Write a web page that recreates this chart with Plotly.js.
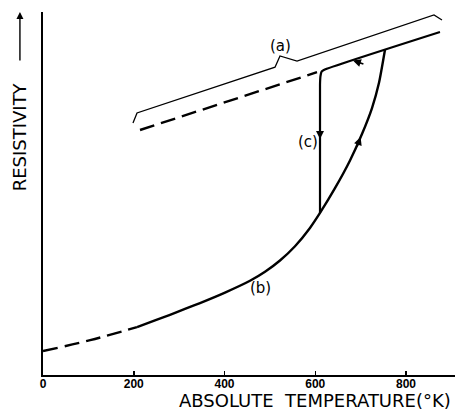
<!DOCTYPE html>
<html>
<head>
<meta charset="utf-8">
<script src="https://cdn.plot.ly/plotly-3.0.1.min.js"></script>
<style>html,body{margin:0;padding:0;background:#fff;}#chart{width:457px;height:413px;}</style>
</head>
<body>
<div id="chart"></div>
<script>
// Curve (b): resistivity on heating (arbitrary units, 0-100 scale)
const bDashT = [0, 104, 207];
const bDashR = [6.6, 9.6, 13.2];
const bT = [207.2, 246.8, 279.9, 312.9, 346.0, 401.1, 456.2, 489.3, 522.3, 555.4, 588.4, 610.5, 643.5, 676.6, 703.0, 725.1, 740.5, 753.7];
const bR = [13.22, 15.07, 16.58, 18.20, 19.81, 22.70, 25.95, 28.43, 31.54, 35.47, 40.51, 44.64, 51.46, 59.10, 66.39, 73.55, 80.50, 89.59];
// Upper line: extrapolated (dashed) and measured (solid) with cooling branch (c)
const hiDashT = [213.8, 603.9];
const hiDashR = [67.49, 83.42];
const cT = [610.5, 610.5, 611.5, 614, 619, 874.9];
const cR = [44.64, 80.0, 82.3, 83.6, 84.05, 94.49];
// Bracket (a)
const aT = [198.3, 207.2, 511.3, 522.3, 559.8, 861.7, 879.3];
const aR = [69.4, 72.2, 84.8, 87.9, 86.5, 99.2, 97.8];
// Tick labels
const tickVals = [0, 200, 400, 600, 800];
const tickText = ['0', '200', '400', '600', '800'];
// Curve labels
const labelText = ['(a)', '(b)', '(c)'];
const labelT = [524.5, 480.4, 584.0];
const labelR = [90.6, 24.0, 64.2];
// Direction arrows (head positions)
const arrowT = [683, 610.5, 700];
const arrowR = [86.65, 65.0, 65.56];
const arrowDX = [12, 0, -4];
const arrowDY = [4, -11, 11];

const blk = '#000';
const traces = [
  {x: bDashT, y: bDashR, mode: 'lines', line: {color: blk, width: 2.4, dash: '15px,7px', shape: 'spline'}},
  {x: bT, y: bR, mode: 'lines', line: {color: blk, width: 2.4, shape: 'spline', smoothing: 0.6}},
  {x: hiDashT, y: hiDashR, mode: 'lines', line: {color: blk, width: 2.4, dash: '15px,7px'}},
  {x: cT, y: cR, mode: 'lines', line: {color: blk, width: 2.2, shape: 'spline', smoothing: 0.5}},
  {x: aT, y: aR, mode: 'lines', line: {color: blk, width: 1.3}}
];

const annotations = [];
for (let i = 0; i < labelText.length; i++) {
  annotations.push({x: labelT[i], y: labelR[i], xref: 'x', yref: 'y', text: labelText[i], showarrow: false,
    font: {family: 'DejaVu Sans', size: 15, color: blk}});
}
for (let i = 0; i < arrowT.length; i++) {
  annotations.push({x: arrowT[i], y: arrowR[i], xref: 'x', yref: 'y', text: '', showarrow: true,
    ax: arrowDX[i], ay: arrowDY[i], arrowhead: 2, arrowsize: 1, arrowwidth: 1.6, arrowcolor: blk, standoff: 0});
}
annotations.push({x: 0.66, y: -0.069, xref: 'paper', yref: 'paper', xanchor: 'center', yanchor: 'middle',
  text: 'ABSOLUTE\u00A0 TEMPERATURE(°K)', showarrow: false, font: {family: 'DejaVu Sans', size: 18, color: blk}});
annotations.push({x: -0.058, y: 0.655, xref: 'paper', yref: 'paper', xanchor: 'center', yanchor: 'middle',
  text: 'RESISTIVITY', textangle: -90, showarrow: false, font: {family: 'DejaVu Sans', size: 18, color: blk}});
annotations.push({x: -0.056, y: 1.0, xref: 'paper', yref: 'paper', text: '', showarrow: true,
  ax: 0, ay: 50, arrowhead: 2, arrowsize: 1, arrowwidth: 1.4, arrowcolor: blk, standoff: 0});

const layout = {
  width: 457, height: 413,
  margin: {l: 43, r: 2, t: 12, b: 38},
  paper_bgcolor: '#fff', plot_bgcolor: '#fff',
  showlegend: false,
  xaxis: {range: [0, 908], showgrid: false, zeroline: false, showline: true, linecolor: blk, linewidth: 1.6,
    ticks: 'inside', ticklen: 4, tickwidth: 1.5, tickcolor: blk, tickvals: tickVals, ticktext: tickText,
    ticklabelstandoff: -3,
    tickfont: {family: 'Liberation Sans', size: 12, weight: 'bold', color: blk}, fixedrange: true},
  yaxis: {range: [0, 100], showgrid: false, zeroline: false, showline: true, linecolor: blk, linewidth: 1.6,
    ticks: '', showticklabels: false, fixedrange: true},
  annotations: annotations
};
Plotly.newPlot('chart', traces, layout, {staticPlot: true, displayModeBar: false});
</script>
</body>
</html>
